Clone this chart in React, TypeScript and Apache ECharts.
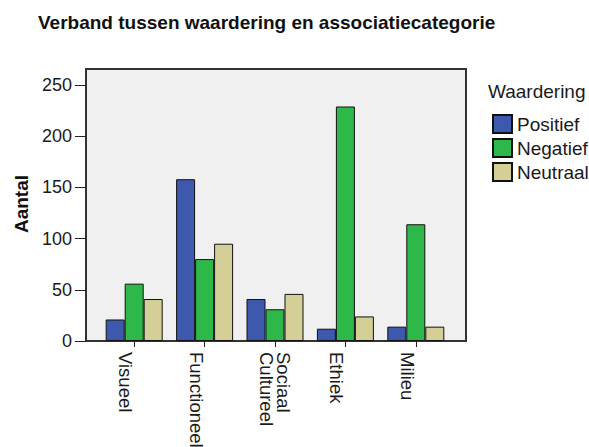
import React, { useEffect, useRef } from "react";
import * as echarts from "echarts";

const titleText = "Verband tussen waardering en associatiecategorie";
const yAxisTitle = "Aantal";
const legendTitle = "Waardering";
const categories = ["Visueel", "Functioneel", "Sociaal\nCultureel", "Ethiek", "Milieu"];
const seriesNames = ["Positief", "Negatief", "Neutraal"];
const positief = [21, 158, 41, 12, 14];
const negatief = [56, 80, 31, 229, 114];
const neutraal = [41, 95, 46, 24, 14];
const colors = ["#3e58ae", "#2fb84a", "#d4cf97"];

const FONT = "'Liberation Sans', Arial, sans-serif";

export default function App() {
  const ref = useRef<HTMLDivElement>(null);
  useEffect(() => {
    if (!ref.current) return;
    const chart = echarts.init(ref.current, undefined, { renderer: "svg" });
    const values = [positief, negatief, neutraal];
    chart.setOption({
      animation: false,
      backgroundColor: "#ffffff",
      textStyle: { fontFamily: FONT },
      grid: {
        left: 99,
        right: 138,
        top: 85,
        bottom: 106,
        containLabel: false,
        outerBoundsMode: "none",
      },
      xAxis: {
        type: "category",
        data: categories.map((c) =>
          c.includes("\n")
            ? { value: c, textStyle: { verticalAlign: "middle" } }
            : c
        ),
        axisLine: { show: false },
        axisTick: { show: true, alignWithLabel: true, length: 6, lineStyle: { color: "#222", width: 1 } },
        axisLabel: {
          rotate: -90,
          margin: 11,
          fontSize: 18.5,
          fontFamily: FONT,
          color: "#1a1a1a",
          verticalAlign: "top",
          lineHeight: 17,
          interval: 0,
          hideOverlap: false,
        },
        splitLine: { show: false },
      },
      yAxis: {
        type: "value",
        min: 0,
        max: 250,
        interval: 50,
        offset: 13,
        axisLine: { show: false },
        axisTick: { show: true, length: 11, lineStyle: { color: "#222", width: 1 } },
        axisLabel: { margin: 14, fontSize: 18, fontFamily: FONT, color: "#1a1a1a" },
        splitLine: { show: false },
      },
      legend: {
        orient: "vertical",
        left: 492,
        top: 114,
        padding: 0,
        itemWidth: 19,
        itemHeight: 18,
        itemGap: 4,
        icon: "rect",
        data: seriesNames,
        textStyle: { fontSize: 19, fontFamily: FONT, color: "#1a1a1a" },
      },
      graphic: [
        {
          type: "rect",
          z: -10,
          silent: true,
          shape: { x: 86, y: 69, width: 380, height: 272 },
          style: { fill: "#f0f0f0", stroke: "#333", lineWidth: 2 },
        },
        {
          type: "text",
          x: 38,
          y: 22,
          style: {
            text: titleText,
            font: `bold 19px ${FONT}`,
            fill: "#111",
            align: "left",
            verticalAlign: "middle",
          },
        },
        {
          type: "text",
          x: 21,
          y: 204,
          rotation: Math.PI / 2,
          style: {
            text: yAxisTitle,
            font: `bold 19px ${FONT}`,
            fill: "#111",
            align: "center",
            verticalAlign: "middle",
          },
        },
        {
          type: "text",
          x: 488,
          y: 91,
          style: {
            text: legendTitle,
            font: `19px ${FONT}`,
            fill: "#1a1a1a",
            align: "left",
            verticalAlign: "middle",
          },
        },
      ],
      series: seriesNames.map((name, i) => ({
        name,
        type: "bar",
        data: values[i],
        barWidth: 19,
        barGap: "0%",
        itemStyle: { color: colors[i], borderColor: "#111", borderWidth: 1 },
      })),
    });
    return () => chart.dispose();
  }, []);
  return (
    <div
      ref={ref}
      style={{ position: "fixed", left: 0, top: 0, width: 589, height: 447 }}
    />
  );
}
